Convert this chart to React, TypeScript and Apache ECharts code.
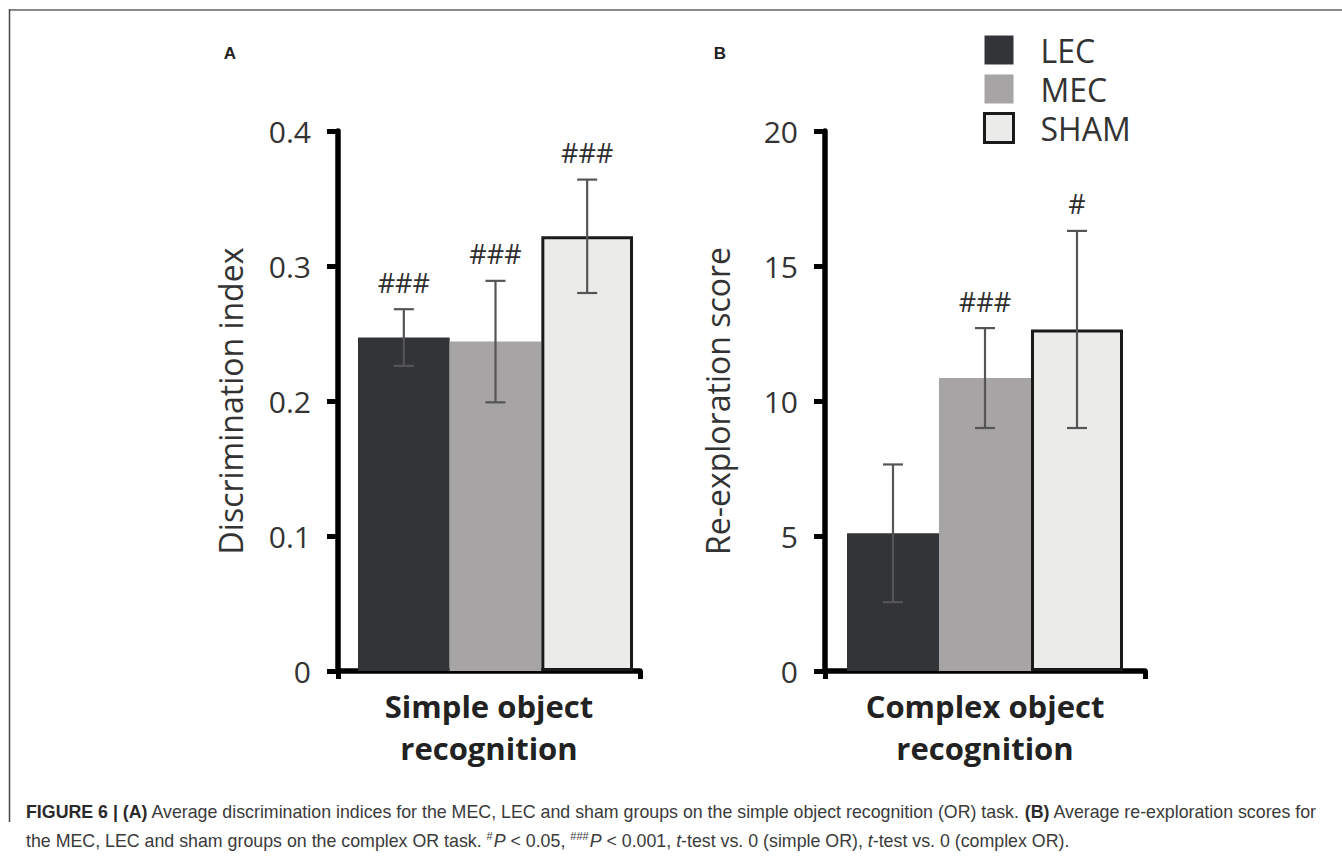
import React, { useEffect, useRef } from "react";
import * as echarts from "echarts";

// ---- data ----
const groups = ["LEC", "MEC", "SHAM"];
const groupColors = ["#323437", "#a6a4a5", "#ebebe9"];
const simpleCategory = ["Simple object\nrecognition"];
const complexCategory = ["Complex object\nrecognition"];
const simpleMean = [0.247, 0.244, 0.322];
const simpleSem = [0.021, 0.045, 0.042];
const simpleSig = ["###", "###", "###"];
const complexMean = [5.1, 10.85, 12.65];
const complexSem = [2.55, 1.85, 3.65];
const complexSig = ["", "###", "#"];
const simpleTicks = { min: 0, max: 0.4, interval: 0.1 };
const complexTicks = { min: 0, max: 20, interval: 5 };

const FONT = "Open Sans";

function makeErrorSeries(gridAxis: number, means: number[], sems: number[], sigs: string[]) {
  return {
    type: "custom",
    xAxisIndex: gridAxis,
    yAxisIndex: gridAxis,
    z: 10,
    silent: true,
    data: means.map((m, i) => [i, m, sems[i]]),
    renderItem: (params: any, api: any) => {
      const i = api.value(0);
      const mean = api.value(1);
      const sem = api.value(2);
      const center = api.coord([0, mean]);
      const band = api.size([1, 0])[0];
      const x = center[0] + (i - 1) * (band / 3);
      const yTop = api.coord([0, mean + sem])[1];
      const yBot = api.coord([0, mean - sem])[1];
      const cap = 10;
      const ls = { stroke: "#555", lineWidth: 2.2 };
      return {
        type: "group",
        children: [
          { type: "line", shape: { x1: x, y1: yTop, x2: x, y2: yBot }, style: ls },
          { type: "line", shape: { x1: x - cap, y1: yTop, x2: x + cap, y2: yTop }, style: ls },
          { type: "line", shape: { x1: x - cap, y1: yBot, x2: x + cap, y2: yBot }, style: ls },
          {
            type: "text",
            style: {
              text: sigs[params.dataIndex],
              x: x,
              y: yTop - 27,
              align: "center",
              verticalAlign: "middle",
              fontSize: 27,
              fontFamily: FONT,
              fill: "#2e2e2e",
            },
          },
        ],
      };
    },
  };
}

function barSeries(axisIdx: number, means: number[]) {
  return groups.map((g, i) => ({
    type: "bar",
    name: g,
    xAxisIndex: axisIdx,
    yAxisIndex: axisIdx,
    barGap: "0%",
    barCategoryGap: "0%",
    data: [means[i]],
    itemStyle:
      i === 2
        ? { color: groupColors[i], borderColor: "#1a1a1a", borderWidth: 3 }
        : { color: groupColors[i] },
  }));
}

function visibleX(gridIndex: number, cat: string[]) {
  return {
    gridIndex,
    type: "category",
    data: cat,
    axisLine: { show: true, lineStyle: { color: "#000", width: 5.5 } },
    axisTick: { show: true, length: 8, lineStyle: { color: "#000", width: 5 } },
    axisLabel: {
      fontFamily: FONT,
      fontWeight: "bold",
      fontSize: 31,
      color: "#222",
      lineHeight: 42,
      margin: 14,
    },
  };
}

function visibleY(gridIndex: number, ticks: any, name: string) {
  return {
    gridIndex,
    type: "value",
    min: ticks.min,
    max: ticks.max,
    interval: ticks.interval,
    axisLine: { show: true, lineStyle: { color: "#000", width: 5.5 } },
    axisTick: { show: true, length: 11, lineStyle: { color: "#000", width: 5 } },
    splitLine: { show: false },
    axisLabel: { fontFamily: FONT, fontSize: 30, color: "#333", margin: 27 },
    name,
    nameLocation: "middle",
    nameGap: 92,
    nameTextStyle: { fontFamily: FONT, fontSize: 32, color: "#333" },
  };
}

function hiddenX(gridIndex: number) {
  return { gridIndex, type: "category", data: ["x"], show: false };
}
function hiddenY(gridIndex: number, ticks: any) {
  return { gridIndex, type: "value", min: ticks.min, max: ticks.max, show: false, splitLine: { show: false } };
}

export default function App() {
  const ref = useRef<HTMLDivElement>(null);
  useEffect(() => {
    document.body.style.margin = "0";
    const chart = echarts.init(ref.current!, undefined, { renderer: "svg" });
    const option: any = {
      animation: false,
      backgroundColor: "#fff",
      grid: [
        { left: 338, top: 131, width: 302, height: 540 },
        { left: 358, top: 131, width: 275, height: 540 },
        { left: 825, top: 131, width: 320, height: 540 },
        { left: 847, top: 131, width: 276, height: 540 },
      ],
      xAxis: [visibleX(0, simpleCategory), hiddenX(1), visibleX(2, complexCategory), hiddenX(3)],
      yAxis: [
        visibleY(0, simpleTicks, "Discrimination index"),
        hiddenY(1, simpleTicks),
        visibleY(2, complexTicks, "Re-exploration score"),
        hiddenY(3, complexTicks),
      ],
      legend: {
        orient: "vertical",
        left: 978,
        top: 29,
        itemWidth: 29,
        itemHeight: 29,
        itemGap: 7,
        icon: "rect",
        selectedMode: false,
        data: [
          { name: "LEC" },
          { name: "MEC" },
          { name: "SHAM", itemStyle: { color: groupColors[2], borderColor: "#1a1a1a", borderWidth: 3 } },
        ],
        textStyle: { fontFamily: FONT, fontSize: 32, color: "#333", lineHeight: 29, padding: [0, 0, 0, 22] },
      },
      series: [
        ...barSeries(1, simpleMean),
        makeErrorSeries(1, simpleMean, simpleSem, simpleSig),
        ...barSeries(3, complexMean),
        makeErrorSeries(3, complexMean, complexSem, complexSig),
      ],
      graphic: [
        { type: "line", shape: { x1: 9, y1: 10, x2: 1342, y2: 10 }, style: { stroke: "#8a8a8a", lineWidth: 2 } },
        { type: "line", shape: { x1: 9.5, y1: 9, x2: 9.5, y2: 822 }, style: { stroke: "#444", lineWidth: 1.5 } },
        {
          type: "text",
          style: { text: "A", x: 230, y: 53, align: "center", verticalAlign: "middle", fontFamily: "Liberation Sans", fontWeight: "bold", fontSize: 17, fill: "#222" },
        },
        {
          type: "text",
          style: { text: "B", x: 720, y: 53, align: "center", verticalAlign: "middle", fontFamily: "Liberation Sans", fontWeight: "bold", fontSize: 17, fill: "#222" },
        },
        {
          type: "text",
          style: {
            x: 26,
            y: 797,
            text:
              "{b|FIGURE 6 | (A)} Average discrimination indices for the MEC, LEC and sham groups on the simple object recognition (OR) task. {b|(B)} Average re-exploration scores for\n" +
              "the MEC, LEC and sham groups on the complex OR task. {sup|#}{i|P} < 0.05, {sup|###}{i|P} < 0.001, {i|t}-test vs. 0 (simple OR), {i|t}-test vs. 0 (complex OR).",
            fontFamily: "Liberation Sans",
            fontSize: 17.8,
            lineHeight: 29,
            fill: "#3a3a3a",
            rich: {
              b: { fontFamily: "Liberation Sans", fontWeight: "bold", fontSize: 17.8, fill: "#2a2a2a", lineHeight: 29 },
              i: { fontFamily: "Liberation Sans", fontStyle: "italic", fontSize: 17.8, fill: "#3a3a3a", lineHeight: 29 },
              sup: { fontFamily: "Liberation Sans", fontSize: 11, fill: "#3a3a3a", lineHeight: 29, padding: [0, 1, 10, 0] },
            },
          },
        },
      ],
    };
    chart.setOption(option);
    return () => chart.dispose();
  }, []);
  return <div ref={ref} style={{ width: 1342, height: 862 }} />;
}
